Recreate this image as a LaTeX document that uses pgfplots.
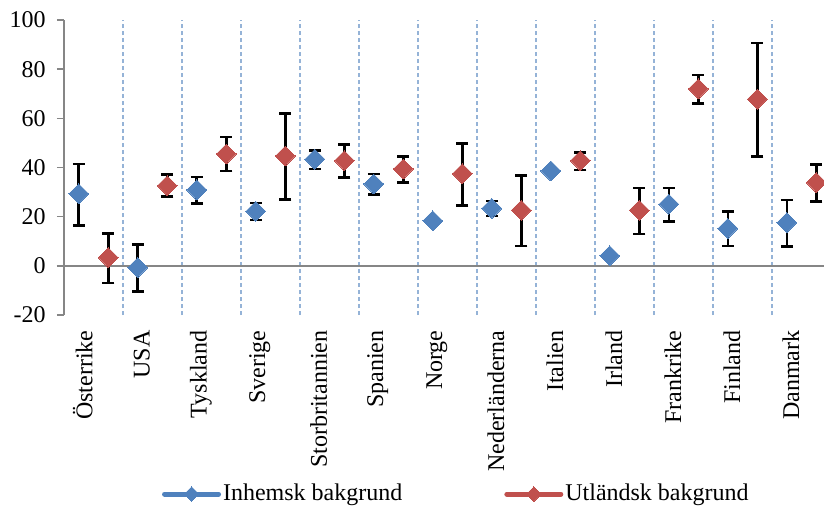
\documentclass[12pt,border=0pt]{standalone}
\usepackage{pgfplots}
\pgfplotsset{compat=1.18}
\usepackage{pgfplotstable}
\usepackage{fontspec}
\setmainfont{Liberation Serif}
\definecolor{blueC}{HTML}{4F81BD}
\definecolor{redC}{HTML}{C0504D}
\definecolor{gridC}{HTML}{95B3D7}
\definecolor{axC}{HTML}{868686}
\pgfplotsset{diamondline legend/.style={legend image code/.code={\draw[mark repeat=2,mark phase=2,line cap=round,##1] plot coordinates {(0pt,0pt) (13.5pt,0pt) (27pt,0pt)};}}}

\pgfplotstableread{
x y ep em
-0.25 29.3 12.2 12.8
0.75 -0.7 9.4 9.7
1.75 30.9 5.3 5.6
2.75 22.2 3.4 3.5
3.75 43.4 3.6 4.0
4.75 33.3 4.1 4.3
5.75 18.3 0.0 0.0
6.75 23.4 3.0 3.1
7.75 38.6 0.8 0.8
8.75 4.1 0.0 0.0
9.75 25.1 6.6 7.1
10.75 15.2 6.8 7.1
11.75 17.6 9.2 9.8
}\inhemsk

\pgfplotstableread{
x y ep em
0.25 3.4 9.7 10.3
1.25 32.6 4.5 4.4
2.25 45.5 6.9 6.9
3.25 44.7 17.2 17.7
4.25 42.8 6.5 6.9
5.25 39.4 5.0 5.5
6.25 37.5 12.2 13.0
7.25 22.6 14.1 14.6
8.25 42.8 3.3 3.8
9.25 22.6 9.1 9.7
10.25 72.0 5.6 6.0
11.25 67.8 22.9 23.4
12.25 33.9 7.4 7.8
}\utlandsk

\begin{document}
\begin{tikzpicture}
\begin{axis}[
  scale only axis,
  width=380pt, height=147.5pt,
  xmin=-0.5, xmax=12.38,
  ymin=-20, ymax=100,
  clip=false,
  axis y line*=left,
  axis x line*=bottom,
  x axis line style={draw=none},
  y axis line style={draw=axC, line width=0.75pt},
  ytick={-20,0,20,40,60,80,100},
  tick align=outside,
  major tick length=3.5pt,
  ytick style={draw=axC, line width=0.75pt},
  xtick style={draw=none},
  /pgf/number format/assume math mode=true,
  yticklabel style={xshift=-1.5pt},
  xtick={0.5,1.5,...,11.5},
  xticklabels={},
  xmajorgrids,
  major x grid style={draw=gridC, dash pattern=on 2pt off 1.5pt, line width=0.7pt},
  extra x ticks={-0.25,0.75,1.75,2.75,3.75,4.75,5.75,6.75,7.75,8.75,9.75,10.75,11.75},
  extra x tick labels={Österrike,USA,Tyskland,Sverige,Storbritannien,Spanien,Norge,Nederländerna,Italien,Irland,Frankrike,Finland,Danmark},
  extra x tick style={grid=none, xtick style={draw=none}, xticklabel style={rotate=90, anchor=east, yshift=-2pt}},
  extra y ticks={0},
  extra y tick labels={},
  extra y tick style={grid=major, major grid style={draw=axC, line width=0.75pt}},
  legend columns=2,
  legend style={draw=none, fill=none, inner sep=0pt, outer sep=0pt,
    at={(0.129,-0.607)}, anchor=west,
    nodes={inner sep=1pt},
    /tikz/every even column/.append style={column sep=50pt}},
]
\addlegendimage{blueC, line width=2.5pt, mark=square*, mark options={rotate=45, mark size=2.6pt, line width=0pt}, diamondline legend}
\addlegendentry{Inhemsk bakgrund}
\addlegendimage{redC, line width=2.5pt, mark=square*, mark options={rotate=45, mark size=2.6pt, line width=0pt}, diamondline legend}
\addlegendentry{Utländsk bakgrund}

\addplot[forget plot, only marks, mark=square*, mark size=3.5pt,
  mark options={rotate=45, fill=blueC, draw=blueC, line width=0pt},
  error bars/.cd, y dir=both, y explicit,
  error bar style={black, line width=1.3pt},
  error mark options={rotate=90, mark size=3pt, line width=1.3pt, black}]
  table[x=x, y=y, y error plus=ep, y error minus=em]{\inhemsk};
\addplot[forget plot, only marks, mark=square*, mark size=3.5pt,
  mark options={rotate=45, fill=redC, draw=redC, line width=0pt},
  error bars/.cd, y dir=both, y explicit,
  error bar style={black, line width=1.3pt},
  error mark options={rotate=90, mark size=3pt, line width=1.3pt, black}]
  table[x=x, y=y, y error plus=ep, y error minus=em]{\utlandsk};
\end{axis}
\pgfresetboundingbox
\path[use as bounding box] (-32pt,-95pt) rectangle (380pt,157.5pt);
\end{tikzpicture}
\end{document}
